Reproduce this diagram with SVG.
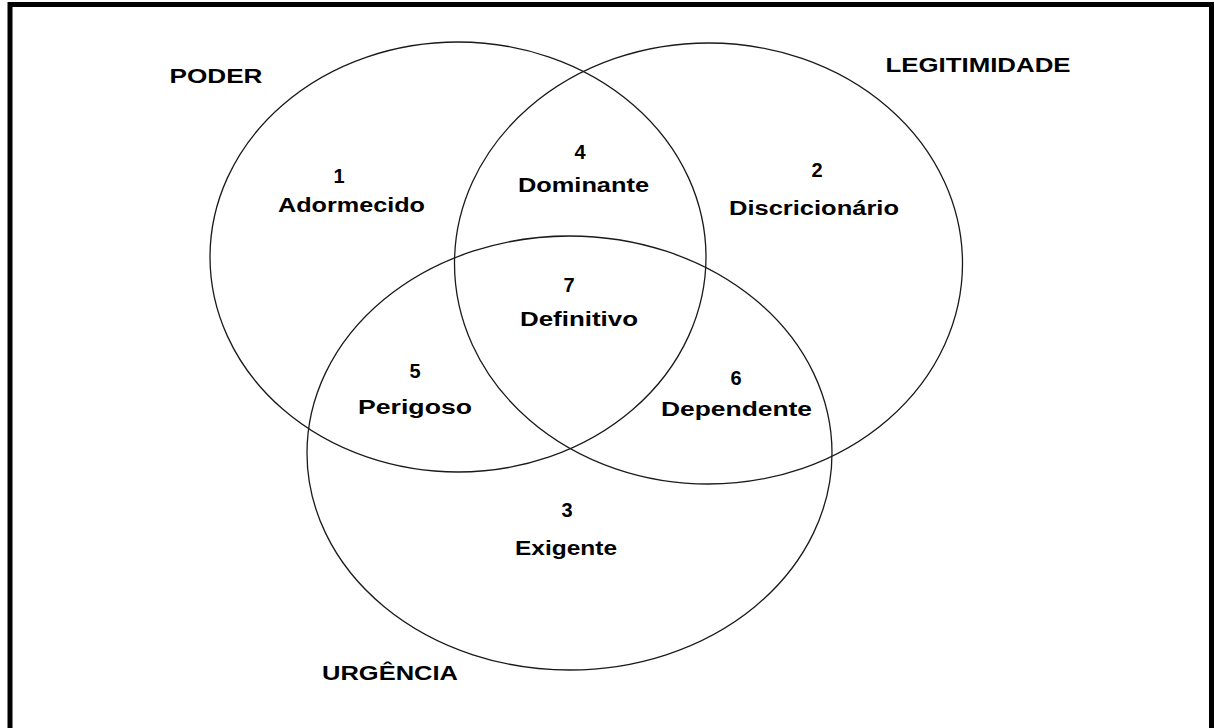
<svg xmlns="http://www.w3.org/2000/svg" width="1214" height="728" viewBox="0 0 1214 728">
<style>
.c{fill:none;stroke:#1a1a1a;stroke-width:1.3}
text{font-family:"Liberation Sans",Arial,sans-serif;font-weight:bold;font-size:20px;fill:#000;text-anchor:middle}
</style>
<rect x="0" y="0" width="1214" height="728" fill="#fff"/>
<rect x="10" y="4.5" width="1201.5" height="740" fill="none" stroke="#000" stroke-width="5"/>
<g id="poder">
<ellipse class="c" cx="458" cy="257" rx="248" ry="215"/>
<text x="216" y="83" textLength="93" lengthAdjust="spacingAndGlyphs">PODER</text>
</g>
<g id="legitimidade">
<ellipse class="c" cx="708.5" cy="263.5" rx="254" ry="220.5"/>
<text x="978" y="72" textLength="185" lengthAdjust="spacingAndGlyphs">LEGITIMIDADE</text>
</g>
<g id="urgencia">
<ellipse class="c" cx="569.5" cy="453" rx="262.5" ry="217"/>
<text x="390" y="680" textLength="136" lengthAdjust="spacingAndGlyphs">URGÊNCIA</text>
</g>
<g id="r1">
<text x="339" y="183">1</text>
<text x="351.5" y="212" textLength="147" lengthAdjust="spacingAndGlyphs">Adormecido</text>
</g>
<g id="r4">
<text x="580" y="159">4</text>
<text x="583.5" y="192" textLength="131" lengthAdjust="spacingAndGlyphs">Dominante</text>
</g>
<g id="r2">
<text x="817" y="177">2</text>
<text x="814" y="215" textLength="170" lengthAdjust="spacingAndGlyphs">Discricionário</text>
</g>
<g id="r7">
<text x="569" y="292">7</text>
<text x="579" y="326" textLength="118" lengthAdjust="spacingAndGlyphs">Definitivo</text>
</g>
<g id="r5">
<text x="415" y="378">5</text>
<text x="415" y="414" textLength="114" lengthAdjust="spacingAndGlyphs">Perigoso</text>
</g>
<g id="r6">
<text x="736" y="385">6</text>
<text x="736.5" y="416" textLength="151" lengthAdjust="spacingAndGlyphs">Dependente</text>
</g>
<g id="r3">
<text x="567" y="517">3</text>
<text x="566" y="555" textLength="102" lengthAdjust="spacingAndGlyphs">Exigente</text>
</g>
<g id="connectors"></g>
</svg>
